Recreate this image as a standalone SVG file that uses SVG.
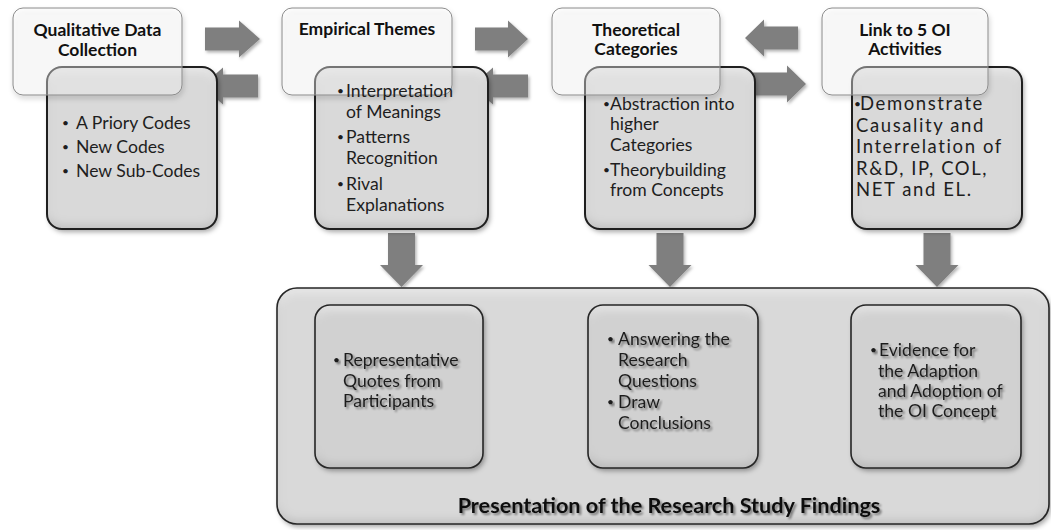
<svg xmlns="http://www.w3.org/2000/svg" width="1051" height="530" viewBox="0 0 1051 530">
  <defs>
    <style>
      .hd { font-family: Lato, "Liberation Sans", sans-serif; font-weight: 700; font-size: 17.5px; fill: #111; text-anchor: middle; }
      .bd { font-family: Lato, "Liberation Sans", sans-serif; font-size: 17.6px; fill: #1e1e1e; }
      .bd4 { font-family: Lato, "Liberation Sans", sans-serif; font-size: 18.5px; letter-spacing: 1.6px; fill: #1e1e1e; }
      .bl { font-family: Lato, "Liberation Sans", sans-serif; font-size: 12px; fill: #1e1e1e; }
      .in { font-family: Lato, "Liberation Sans", sans-serif; font-size: 17.6px; fill: #1e1e1e; filter: url(#textShadow); }
      .inb { font-family: Lato, "Liberation Sans", sans-serif; font-size: 12px; fill: #1e1e1e; filter: url(#textShadow); }
      .ttl { font-family: Lato, "Liberation Sans", sans-serif; font-weight: 700; font-size: 21.6px; fill: #111; text-anchor: middle; filter: url(#textShadow); }
      .wbox { fill: #ffffff; fill-opacity: 0.35; stroke: #8c8c8c; stroke-width: 1; filter: url(#softShadow); }
      .gfill { fill: #d9d9d9; filter: url(#bevel); }
      .ifill { fill: #d1d1d1; filter: url(#bevel); }
      .edge { fill: none; stroke: #1f1f1f; stroke-width: 2; }
      .edge-thin { fill: none; stroke: #262626; stroke-width: 1.6; }
      .arrow { fill: #7f7f7f; filter: url(#arrowShadow); }
    </style>
    <!-- outer drop shadow plus inner rim shading -->
    <filter id="bevel" x="-10%" y="-10%" width="125%" height="125%">
      <feGaussianBlur in="SourceAlpha" stdDeviation="5" result="blur"/>
      <feOffset in="blur" dy="-3" result="ob"/>
      <feComposite in="SourceAlpha" in2="ob" operator="out" result="rim"/>
      <feFlood flood-color="#000" flood-opacity="0.32" result="rc"/>
      <feComposite in="rc" in2="rim" operator="in" result="inner"/>
      <feGaussianBlur in="SourceAlpha" stdDeviation="5" result="hb"/>
      <feOffset in="hb" dy="4" result="hob"/>
      <feComposite in="SourceAlpha" in2="hob" operator="out" result="hrim"/>
      <feFlood flood-color="#fff" flood-opacity="0.55" result="hc"/>
      <feComposite in="hc" in2="hrim" operator="in" result="hi"/>
      <feOffset in="SourceAlpha" dx="2" dy="3" result="so"/>
      <feGaussianBlur in="so" stdDeviation="2.5" result="sb"/>
      <feFlood flood-color="#000" flood-opacity="0.35"/>
      <feComposite in2="sb" operator="in" result="drop"/>
      <feMerge>
        <feMergeNode in="drop"/>
        <feMergeNode in="SourceGraphic"/>
        <feMergeNode in="hi"/>
        <feMergeNode in="inner"/>
      </feMerge>
    </filter>
    <filter id="softShadow" x="-10%" y="-10%" width="125%" height="130%">
      <feDropShadow dx="1" dy="3" stdDeviation="2.5" flood-color="#000" flood-opacity="0.3"/>
    </filter>
    <filter id="arrowShadow" x="-20%" y="-20%" width="150%" height="150%">
      <feDropShadow dx="1.5" dy="2" stdDeviation="1.5" flood-color="#000" flood-opacity="0.3"/>
    </filter>
    <filter id="textShadow" x="-5%" y="-30%" width="110%" height="170%">
      <feDropShadow dx="2" dy="2" stdDeviation="1.3" flood-color="#000" flood-opacity="0.45"/>
    </filter>
  </defs>

  <rect width="1051" height="530" fill="#ffffff"/>

  <!-- connectors -->
  <g id="connectors">
    <path class="arrow" d="M205,27.5 H239 V20.5 L260,39 L239,57.5 V50.5 H205 Z"/>
    <path class="arrow" d="M258,74.5 H223 V67.5 L202,86 L223,104.5 V97.5 H258 Z"/>
    <path class="arrow" d="M475,27.5 H508 V20.5 L528,39 L508,57.5 V50.5 H475 Z"/>
    <path class="arrow" d="M528,74.5 H493 V67.5 L472,86 L493,104.5 V97.5 H528 Z"/>
    <path class="arrow" d="M798,26.5 H764 V19.5 L745,38 L764,56.5 V49.5 H798 Z"/>
    <path class="arrow" d="M753,72.5 H787 V65.5 L806,84 L787,102.5 V95.5 H753 Z"/>
    <path class="arrow" d="M388,233 H415 V265 H423 L401.5,287 L380,265 H388 Z"/>
    <path class="arrow" d="M656.5,233 H683.5 V265 H691.5 L670,287 L648.5,265 H656.5 Z"/>
    <path class="arrow" d="M923.5,233 H950.5 V265 H958.5 L937,287 L915.5,265 H923.5 Z"/>
  </g>

  <!-- step 1 -->
  <g id="step1">
    <rect class="gfill" x="47" y="67" width="170" height="162" rx="15"/>
    <rect class="edge" x="47" y="67" width="170" height="162" rx="15"/>
    <rect class="wbox" x="13" y="8" width="169" height="87" rx="10"/>
    <text class="hd" x="97.5" y="36">Qualitative Data</text>
    <text class="hd" x="97.5" y="56">Collection</text>
    <text class="bl" x="62" y="127">•</text>
    <text class="bd" x="76" y="129">A Priory Codes</text>
    <text class="bl" x="62" y="151">•</text>
    <text class="bd" x="76" y="153">New Codes</text>
    <text class="bl" x="62" y="175">•</text>
    <text class="bd" x="76" y="177">New Sub-Codes</text>
  </g>

  <!-- step 2 -->
  <g id="step2">
    <rect class="gfill" x="315" y="67" width="173" height="162" rx="15"/>
    <rect class="edge" x="315" y="67" width="173" height="162" rx="15"/>
    <rect class="wbox" x="282" y="8" width="170" height="87" rx="10"/>
    <text class="hd" x="367" y="35">Empirical Themes</text>
    <text class="bl" x="337" y="95">•</text>
    <text class="bd" x="346" y="97">Interpretation</text>
    <text class="bd" x="346" y="118">of Meanings</text>
    <text class="bl" x="337" y="141">•</text>
    <text class="bd" x="346" y="143">Patterns</text>
    <text class="bd" x="346" y="164">Recognition</text>
    <text class="bl" x="337" y="188">•</text>
    <text class="bd" x="346" y="190">Rival</text>
    <text class="bd" x="346" y="211">Explanations</text>
  </g>

  <!-- step 3 -->
  <g id="step3">
    <rect class="gfill" x="585" y="67" width="170" height="162" rx="15"/>
    <rect class="edge" x="585" y="67" width="170" height="162" rx="15"/>
    <rect class="wbox" x="552" y="8" width="168" height="87" rx="10"/>
    <text class="hd" x="636" y="36">Theoretical</text>
    <text class="hd" x="636" y="55">Categories</text>
    <text class="bl" x="603" y="108">•</text>
    <text class="bd" x="610" y="110">Abstraction into</text>
    <text class="bd" x="610" y="130">higher</text>
    <text class="bd" x="610" y="151">Categories</text>
    <text class="bl" x="603" y="174">•</text>
    <text class="bd" x="610" y="176">Theorybuilding</text>
    <text class="bd" x="610" y="196">from Concepts</text>
  </g>

  <!-- step 4 -->
  <g id="step4">
    <rect class="gfill" x="852" y="67" width="170" height="162" rx="15"/>
    <rect class="edge" x="852" y="67" width="170" height="162" rx="15"/>
    <rect class="wbox" x="822" y="8" width="166" height="87" rx="10"/>
    <text class="hd" x="905" y="36">Link to 5 OI</text>
    <text class="hd" x="905" y="55">Activities</text>
    <text class="bl" x="854" y="108">•</text>
    <text class="bd4" x="860" y="110">Demonstrate</text>
    <text class="bd4" x="856" y="131.5">Causality and</text>
    <text class="bd4" x="856" y="153">Interrelation of</text>
    <text class="bd4" x="856" y="174.5">R&amp;D, IP, COL,</text>
    <text class="bd4" x="856" y="196">NET and EL.</text>
  </g>

  <!-- findings -->
  <g id="findings">
    <rect class="gfill" x="277" y="288" width="772" height="236" rx="20"/>
    <rect class="edge-thin" x="277" y="288" width="772" height="236" rx="20"/>
    <text class="ttl" x="669" y="513">Presentation of the Research Study Findings</text>
  </g>

  <g id="quotes">
    <rect class="ifill" x="315" y="305" width="168" height="163" rx="15"/>
    <rect class="edge-thin" x="315" y="305" width="168" height="163" rx="15"/>
    <text class="inb" x="333" y="364">•</text>
    <text class="in" x="343" y="366">Representative</text>
    <text class="in" x="343" y="387">Quotes from</text>
    <text class="in" x="343" y="407">Participants</text>
  </g>

  <g id="answers">
    <rect class="ifill" x="588" y="305" width="170" height="163" rx="15"/>
    <rect class="edge-thin" x="588" y="305" width="170" height="163" rx="15"/>
    <text class="inb" x="607" y="343">•</text>
    <text class="in" x="618" y="345">Answering the</text>
    <text class="in" x="618" y="366">Research</text>
    <text class="in" x="618" y="387">Questions</text>
    <text class="inb" x="607" y="406">•</text>
    <text class="in" x="618" y="408">Draw</text>
    <text class="in" x="618" y="429">Conclusions</text>
  </g>

  <g id="evidence">
    <rect class="ifill" x="851" y="305" width="170" height="163" rx="15"/>
    <rect class="edge-thin" x="851" y="305" width="170" height="163" rx="15"/>
    <text class="inb" x="870" y="354">•</text>
    <text class="in" x="879" y="356">Evidence for</text>
    <text class="in" x="878" y="377">the Adaption</text>
    <text class="in" x="878" y="397">and Adoption of</text>
    <text class="in" x="878" y="417">the OI Concept</text>
  </g>
</svg>
